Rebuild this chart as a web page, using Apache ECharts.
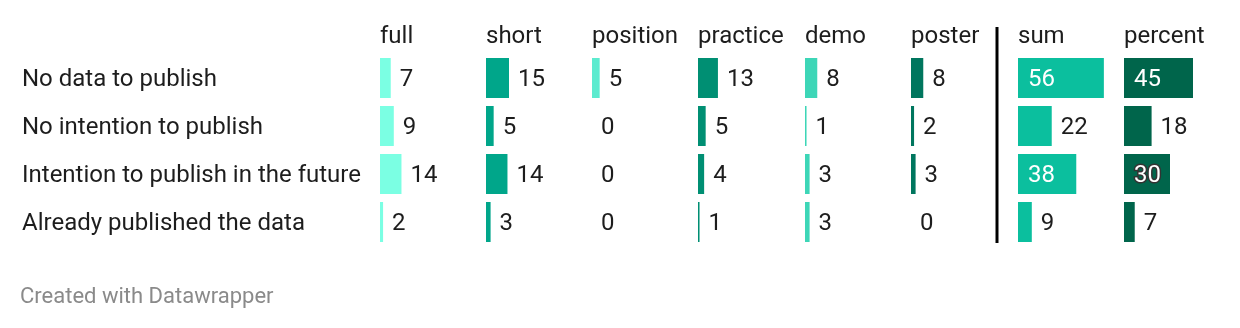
<!DOCTYPE html>
<html><head><meta charset="utf-8">
<script src="https://cdn.jsdelivr.net/npm/echarts@6/dist/echarts.min.js"></script>
<style>html,body{margin:0;padding:0;background:#fff}#c{width:1240px;height:328px}</style>
</head><body><div id="c"></div>
<script>
const rows = ["No data to publish","No intention to publish","Intention to publish in the future","Already published the data"];
const columns = ["full","short","position","practice","demo","poster","sum","percent"];
const full = [7,9,14,2];
const short = [15,5,14,3];
const position = [5,0,0,0];
const practice = [13,5,4,1];
const demo = [8,1,3,3];
const poster = [8,2,3,0];
const sum = [56,22,38,9];
const percent = [45,18,30,7];
const values = [full,short,position,practice,demo,poster,sum,percent];
const colors = ["#7bffe3","#00a68a","#5cebcf","#008f73","#3dd6b7","#00765e","#0bbf9e","#00654b"];

const font = "Roboto";
const FS = 24;
const colLeft = [380,486,592,698,805,911,1018,1124];
const W = 92, MAX = 60; // px per unit ~1.53
const grids=[], xAxes=[], yAxes=[], series=[], titles=[];
values.forEach((vals,i)=>{
  grids.push({left:colLeft[i], top:54, width:W, height:192, containLabel:false});
  xAxes.push({type:'value', gridIndex:i, min:0, max:MAX, show:false});
  yAxes.push({type:'category', gridIndex:i, data:rows, inverse:true, show:i===0,
    axisLine:{show:false}, axisTick:{show:false}, splitLine:{show:false},
    axisLabel:{show:i===0, align:'left', margin:358, formatter: v => '{a|' + v + '}',
      rich:{a:{color:'#1d1d1d', fontFamily:font, fontSize:FS, padding:[4,0,0,0]}}}});
  series.push({type:'bar', xAxisIndex:i, yAxisIndex:i, barWidth:40, itemStyle:{color:colors[i]},
    silent:true, animation:false,
    data: vals.map(v=>{
      const inside = v*W/MAX >= 40;
      const lab = {show:true, position: inside?'insideLeft':'right', distance: inside?10:9, offset:[0,2],
        color: inside?'#fff':'#1d1d1d', fontFamily:font, fontSize:FS};
      if (inside && i===7 && v===30) { lab.textBorderColor='#333'; lab.textBorderWidth=3; }
      return {value:v, label:lab};
    })});
  titles.push({text:columns[i], left:colLeft[i], top:25, padding:0,
    textStyle:{color:'#1d1d1d', fontFamily:font, fontSize:FS, fontWeight:'normal'}});
});
titles.push({text:'Created with Datawrapper', left:20, top:286, padding:0,
  textStyle:{color:'#8a8a8a', fontFamily:font, fontSize:22, fontWeight:'normal'}});

const chart = echarts.init(document.getElementById('c'), null, {renderer:'canvas'});
chart.setOption({
  animation:false,
  backgroundColor:'#fff',
  title: titles,
  grid: grids, xAxis: xAxes, yAxis: yAxes, series: series,
  graphic:[{type:'line', shape:{x1:997,y1:27,x2:997,y2:243}, style:{stroke:'#000', lineWidth:3}}]
});
</script></body></html>
